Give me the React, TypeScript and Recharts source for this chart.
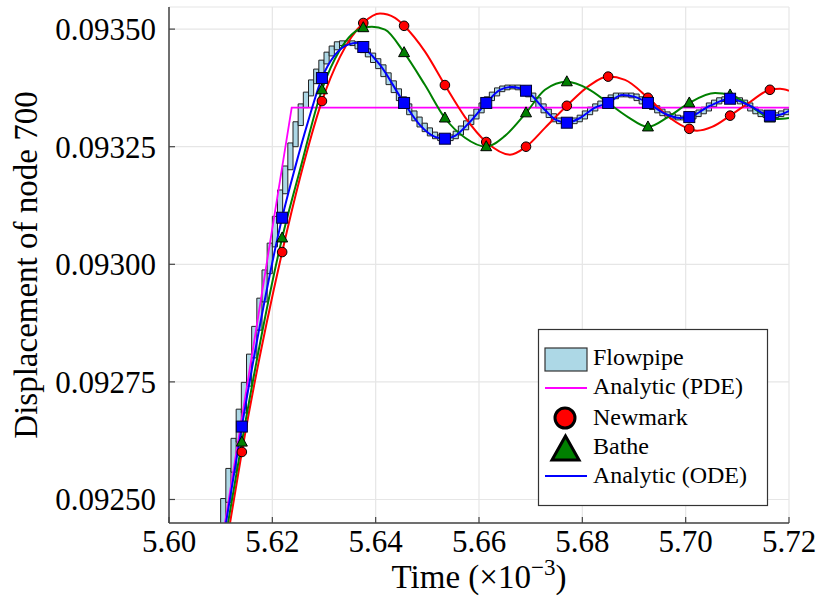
import React from "react";
import { ComposedChart, Line, XAxis, YAxis, CartesianGrid, ReferenceArea } from "recharts";

const FONT = '"Liberation Serif", "Times New Roman", serif';

const xTicks = [5.6, 5.62, 5.64, 5.66, 5.68, 5.7, 5.72];
const yTicks = [0.0925, 0.09275, 0.093, 0.09325, 0.0935];

// times (x 1e-3) where the integrators carry a marker
const markerT = [5.6141, 5.6219, 5.6296, 5.6376, 5.6455, 5.6534, 5.6614, 5.6691, 5.677, 5.685, 5.6927, 5.7007, 5.7086, 5.7163];

// Newmark
const newmarkMarks = [0.092601, 0.093026, 0.093347, 0.093513, 0.093507, 0.093381, 0.09326, 0.09325, 0.093337, 0.093399, 0.093354, 0.093288, 0.093316, 0.093371];
const newmarkT = [5.61181, 5.62536, 5.6331, 5.64084, 5.64374, 5.64955, 5.65729, 5.666, 5.67277, 5.68148, 5.68826, 5.69697, 5.70219, 5.7051, 5.71245, 5.71826, 5.72];
const newmarkV = [0.09245, 0.093184, 0.093441, 0.093533, 0.093524, 0.093452, 0.093313, 0.093233, 0.09329, 0.093381, 0.093392, 0.093311, 0.093284, 0.093292, 0.093345, 0.093373, 0.093369];

// Bathe
const batheMarks = [0.092622, 0.093056, 0.093371, 0.093503, 0.09345, 0.093311, 0.09325, 0.093322, 0.093388, 0.093343, 0.093292, 0.093343, 0.09336, 0.093311];
const batheT = [5.61142, 5.62536, 5.6331, 5.63929, 5.64181, 5.64955, 5.65729, 5.66503, 5.67277, 5.6811, 5.68884, 5.69658, 5.70568, 5.71245, 5.71787, 5.72];
const batheV = [0.09245, 0.093201, 0.093456, 0.093505, 0.093499, 0.093381, 0.093269, 0.093273, 0.093371, 0.093373, 0.093313, 0.093313, 0.093364, 0.093337, 0.093309, 0.093311];

// Analytic (ODE)
const odeMarks = [0.092655, 0.093099, 0.093396, 0.093462, 0.093343, 0.093267, 0.093343, 0.093369, 0.093301, 0.093343, 0.093343, 0.093313, 0.093352, 0.093316];
const odeT = [5.61103, 5.61742, 5.62439, 5.6269, 5.63213, 5.63465, 5.63658, 5.64084, 5.64858, 5.65148, 5.65535, 5.65826, 5.66406, 5.66639, 5.67277, 5.6749, 5.67955, 5.68245, 5.68768, 5.69019, 5.696, 5.6989, 5.70471, 5.71245, 5.71826, 5.72];
const odeV = [0.09245, 0.09286, 0.093205, 0.093303, 0.093445, 0.093467, 0.093471, 0.093424, 0.093296, 0.093271, 0.093273, 0.093303, 0.093371, 0.093377, 0.093328, 0.093307, 0.093311, 0.093333, 0.09336, 0.093356, 0.09332, 0.093311, 0.093337, 0.093337, 0.093318, 0.093326];

// Analytic (PDE)
const pdeT = [5.61084, 5.62375, 5.72];
const pdeV = [0.09245, 0.093333, 0.093333];

// flowpipe: centre of the reach set at each step boundary
const fpStart = 5.61;
const fpStep = 0.001;
const fpV = [
  0.092435, 0.092498, 0.092562, 0.092626, 0.092688, 0.092745, 0.092805, 0.092864, 0.092924, 0.092984,
  0.093041, 0.093098, 0.093154, 0.093205, 0.093254, 0.093299, 0.093337, 0.093362, 0.093388, 0.093411,
  0.09343, 0.093447, 0.09346, 0.093469, 0.093471, 0.093471, 0.093469, 0.093462, 0.093454, 0.093445,
  0.093433, 0.09342, 0.093403, 0.093386, 0.093369, 0.093352, 0.093337, 0.093322, 0.093309, 0.093296,
  0.093286, 0.093277, 0.093271, 0.093267, 0.093267, 0.093271, 0.093279, 0.09329, 0.093301, 0.093313,
  0.093326, 0.093339, 0.093352, 0.093362, 0.093371, 0.093375, 0.093377, 0.093377, 0.093375, 0.093369,
  0.09336, 0.09335, 0.093337, 0.093326, 0.093316, 0.093307, 0.093303, 0.093301, 0.093303, 0.093307,
  0.093313, 0.093322, 0.09333, 0.093337, 0.093343, 0.09335, 0.093356, 0.09336, 0.09336, 0.09336,
  0.093358, 0.093352, 0.093345, 0.093339, 0.093333, 0.093326, 0.09332, 0.093316, 0.093313, 0.093311,
  0.093311, 0.093313, 0.093318, 0.093324, 0.09333, 0.093339, 0.093345, 0.09335, 0.093352, 0.093352,
  0.09335, 0.093345, 0.093339, 0.09333, 0.093324, 0.093318, 0.093316, 0.093316, 0.093318, 0.093322,
  0.093326,
];
const FP_PAD = 0.000004;

type Pt = { t: number; v: number; m?: boolean };

function buildSeries(ts: number[], vs: number[], marks?: number[]): Pt[] {
  const pts: Pt[] = ts.map((t, i) => ({ t, v: vs[i] }));
  if (marks) markerT.forEach((t, i) => pts.push({ t, v: marks[i], m: true }));
  return pts.sort((a, b) => a.t - b.t);
}

const newmarkData = buildSeries(newmarkT, newmarkV, newmarkMarks);
const batheData = buildSeries(batheT, batheV, batheMarks);
const odeData = buildSeries(odeT, odeV, odeMarks);
const pdeData = buildSeries(pdeT, pdeV);

const fpBoxes = fpV.slice(0, -1).map((v, k) => {
  const w = fpV[k + 1];
  return {
    x1: fpStart + k * fpStep,
    x2: fpStart + (k + 1) * fpStep,
    y1: Math.min(v, w) - FP_PAD,
    y2: Math.max(v, w) + FP_PAD,
  };
});

const circleDot = (p: any) =>
  p.payload && p.payload.m ? (
    <circle key={"n" + p.index} cx={p.cx} cy={p.cy} r={4.8} fill="#ff0000" stroke="#000" strokeWidth={1} />
  ) : (
    <g key={"n" + p.index} />
  );

const triangleDot = (p: any) =>
  p.payload && p.payload.m ? (
    <polygon
      key={"b" + p.index}
      points={`${p.cx},${p.cy - 6} ${p.cx - 5.5},${p.cy + 4} ${p.cx + 5.5},${p.cy + 4}`}
      fill="#008000"
      stroke="#000"
      strokeWidth={1}
    />
  ) : (
    <g key={"b" + p.index} />
  );

const squareDot = (p: any) =>
  p.payload && p.payload.m ? (
    <rect key={"o" + p.index} x={p.cx - 5.5} y={p.cy - 5.5} width={11} height={11} fill="#0000ff" stroke="#000033" strokeWidth={1} />
  ) : (
    <g key={"o" + p.index} />
  );

const XTick = (p: any) => (
  <g>
    <line x1={p.x} x2={p.x} y1={p.y} y2={p.y - 6} stroke="#444" strokeWidth={1.2} />
    <text x={p.x} y={p.y + 29} textAnchor="middle" fontFamily={FONT} fontSize={31} fill="#000">
      {Number(p.payload.value).toFixed(2)}
    </text>
  </g>
);

const YTick = (p: any) => (
  <g>
    <line x1={p.x} x2={p.x + 6} y1={p.y} y2={p.y} stroke="#444" strokeWidth={1.2} />
    <text x={p.x - 13} y={p.y + 11} textAnchor="end" fontFamily={FONT} fontSize={31} fill="#000">
      {Number(p.payload.value).toFixed(5)}
    </text>
  </g>
);

const XTitle = (p: any) => {
  const vb = p.viewBox || { x: 169, y: 523, width: 620, height: 78 };
  return (
    <text x={vb.x + vb.width / 2} y={vb.y + 65} textAnchor="middle" fontFamily={FONT} fontSize={33} fill="#000">
      <tspan>Time (×10</tspan>
      <tspan dy={-13} fontSize={23}>−3</tspan>
      <tspan dy={13}>)</tspan>
    </text>
  );
};

const YTitle = (p: any) => {
  const vb = p.viewBox || { x: 9, y: 7, width: 160, height: 516 };
  const cx = vb.x + 28;
  const cy = vb.y + vb.height / 2;
  return (
    <text x={cx} y={cy} transform={`rotate(-90, ${cx}, ${cy})`} textAnchor="middle" fontFamily={FONT} fontSize={33} fill="#000">
      Displacement of node 700
    </text>
  );
};

const legendRows = ["Flowpipe", "Analytic (PDE)", "Newmark", "Bathe", "Analytic (ODE)"];
const legendBaselines = [365, 394, 425, 454, 483];

function LegendBox() {
  return (
    <svg width={820} height={601} style={{ position: "absolute", left: 0, top: 0, pointerEvents: "none" }}>
      <rect x={538.5} y={329.5} width={229} height={176} fill="#fff" stroke="#333" strokeWidth={1.2} />
      <rect x={545} y={348} width={42} height={23} fill="#add8e6" stroke="#333" strokeWidth={1.2} />
      <line x1={545} x2={587} y1={388} y2={388} stroke="#ff00ff" strokeWidth={2} />
      <circle cx={565} cy={418} r={10} fill="#ff0000" stroke="#000" strokeWidth={3} />
      <polygon points="565.5,436 552,460 579,460" fill="#008000" stroke="#000" strokeWidth={3} strokeLinejoin="miter" />
      <line x1={545} x2={587} y1={476} y2={476} stroke="#0000ff" strokeWidth={2} />
      {legendRows.map((r, i) => (
        <text key={r} x={593} y={legendBaselines[i]} fontFamily={FONT} fontSize={24} fill="#000">
          {r}
        </text>
      ))}
    </svg>
  );
}

export default function App() {
  return (
    <div style={{ position: "absolute", left: 0, top: 0, width: 820, height: 601, background: "#fff", fontFamily: FONT }}>
      <ComposedChart width={820} height={601} margin={{ top: 7, right: 31, bottom: 0, left: 9 }} style={{ fontFamily: FONT }}>
        <CartesianGrid stroke="#e6e6e6" strokeWidth={1.2} />
        <XAxis
          type="number"
          dataKey="t"
          domain={[5.6, 5.72]}
          ticks={xTicks}
          interval={0}
          allowDataOverflow
          height={78}
          tickSize={0}
          tickMargin={0}
          tickLine={false}
          tick={XTick}
          axisLine={{ stroke: "#444", strokeWidth: 1.5 }}
          label={XTitle}
        />
        <YAxis
          type="number"
          dataKey="v"
          domain={[0.09245, 0.093547]}
          ticks={yTicks}
          interval={0}
          allowDataOverflow
          width={160}
          tickSize={0}
          tickMargin={0}
          tickLine={false}
          tick={YTick}
          axisLine={{ stroke: "#444", strokeWidth: 1.5 }}
          label={YTitle}
        />
        {fpBoxes.map((b, i) => (
          <ReferenceArea
            key={"fp" + i}
            x1={b.x1}
            x2={b.x2}
            y1={b.y1}
            y2={b.y2}
            fill="#add8e6"
            fillOpacity={1}
            stroke="#222"
            strokeWidth={1}
            ifOverflow="hidden"
          />
        ))}
        <Line data={pdeData} dataKey="v" type="linear" stroke="#ff00ff" strokeWidth={1.8} dot={false} activeDot={false} isAnimationActive={false} />
        <Line data={newmarkData} dataKey="v" type="monotone" stroke="#ff0000" strokeWidth={2} dot={circleDot} activeDot={false} isAnimationActive={false} />
        <Line data={batheData} dataKey="v" type="monotone" stroke="#008000" strokeWidth={2} dot={triangleDot} activeDot={false} isAnimationActive={false} />
        <Line data={odeData} dataKey="v" type="monotone" stroke="#0000ff" strokeWidth={2} dot={squareDot} activeDot={false} isAnimationActive={false} />
      </ComposedChart>
      <LegendBox />
    </div>
  );
}
